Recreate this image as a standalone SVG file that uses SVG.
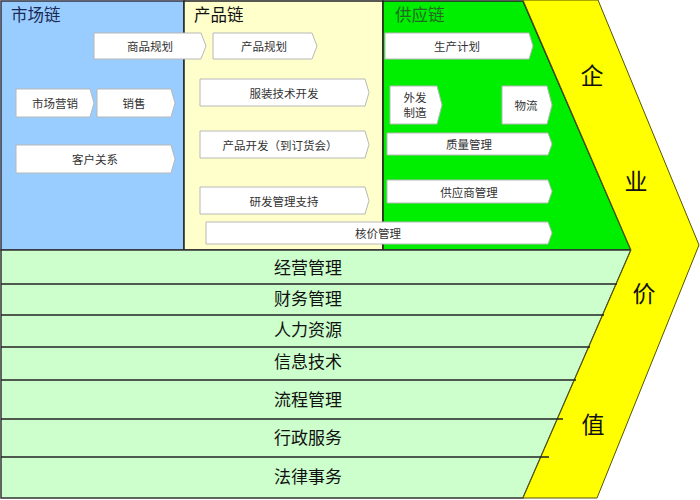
<svg xmlns="http://www.w3.org/2000/svg" width="700" height="500" viewBox="0 0 700 500">
<style>
.box{fill:#ffffff;stroke:#b8b8b8;stroke-width:1}
.bt{font-family:"Noto Sans CJK SC","Noto Sans",sans-serif;font-size:11.5px;fill:#333333;text-anchor:middle;dominant-baseline:central}
.hd{font-family:"Noto Sans CJK SC","Noto Sans",sans-serif;font-size:16.5px}
.row{font-family:"Noto Sans CJK SC","Noto Sans",sans-serif;font-size:17px;fill:#111111;text-anchor:middle;dominant-baseline:central}
.vc{font-family:"Noto Sans CJK SC","Noto Sans",sans-serif;font-size:23px;fill:#111111;text-anchor:middle;dominant-baseline:central}
.rl{stroke:#222222;stroke-width:1.3;fill:none}
</style>
<rect width="700" height="500" fill="#ffffff"/>
<g id="bands">
<rect id="market" x="1" y="1" width="183" height="249" fill="#99ccff" stroke="#333344" stroke-width="1.5"/>
<rect id="product" x="184" y="1" width="199" height="249" fill="#ffffcc" stroke="#222222" stroke-width="1.5"/>
<polygon id="supply" points="383,1 523,1 631,250 383,250" fill="#00ee00" stroke="#222222" stroke-width="1.5"/>
<polygon id="support" points="1,250 631,250 523,498 1,498" fill="#ccffcc" stroke="#333333" stroke-width="1.5"/>
<polygon id="value" points="523,0 598,0 699,245 597,498 523,498 631,250" fill="#ffff00" stroke="#555500" stroke-width="1"/>
</g>
<g id="headers">
<text class="hd" x="11" y="21" fill="#1a2a55">市场链</text>
<text class="hd" x="194" y="21" fill="#111111">产品链</text>
<text class="hd" x="395" y="21" fill="#1f6b1f">供应链</text>
</g>
<g id="connectors">
<line class="rl" x1="1" y1="284" x2="617" y2="284"/>
<line class="rl" x1="1" y1="315" x2="604" y2="315"/>
<line class="rl" x1="1" y1="347" x2="590" y2="347"/>
<line class="rl" x1="1" y1="380" x2="576" y2="380"/>
<line class="rl" x1="1" y1="419" x2="563" y2="419"/>
<line class="rl" x1="1" y1="457" x2="549" y2="457"/>
</g>
<g id="n-spgh"><path class="box" d="M94 33H201L206 46L201 59H94Z"/><text class="bt" x="150" y="46">商品规划</text></g>
<g id="n-cpgh"><path class="box" d="M213 33H312L317 46L312 59H213Z"/><text class="bt" x="264" y="46">产品规划</text></g>
<g id="n-scyx"><path class="box" d="M16 89H90L94 103L90 117H16Z"/><text class="bt" x="55" y="103">市场营销</text></g>
<g id="n-xs"><path class="box" d="M97 89H171L175 103L171 117H97Z"/><text class="bt" x="134" y="103">销售</text></g>
<g id="n-khgx"><path class="box" d="M16 145H171L175 159L171 173H16Z"/><text class="bt" x="95" y="159">客户关系</text></g>
<g id="n-fzjs"><path class="box" d="M200 79H365L369 92.5L365 106H200Z"/><text class="bt" x="284" y="92.5">服装技术开发</text></g>
<g id="n-cpkf"><path class="box" d="M200 131H365L369 144.5L365 158H200Z"/><text class="bt" x="280" y="144.5">产品开发（到订货会）</text></g>
<g id="n-yfgl"><path class="box" d="M200 187H365L369 200.5L365 214H200Z"/><text class="bt" x="284" y="200.5">研发管理支持</text></g>
<g id="n-hjgl"><path class="box" d="M206 222H548L552 233L548 244H206Z"/><text class="bt" x="378" y="233">核价管理</text></g>
<g id="n-scjh"><path class="box" d="M385 33H529L533 46L529 59H385Z"/><text class="bt" x="457" y="46">生产计划</text></g>
<g id="n-wfzz"><path class="box" d="M390 86H437L442 105L437 124H390Z"/><text class="bt" x="415" y="97">外发</text><text class="bt" x="415" y="112">制造</text></g>
<g id="n-wl"><path class="box" d="M502 86H547L552 105L547 124H502Z"/><text class="bt" x="526" y="105">物流</text></g>
<g id="n-zlgl"><path class="box" d="M387 133H548L552 144L548 155H387Z"/><text class="bt" x="469" y="144">质量管理</text></g>
<g id="n-gysgl"><path class="box" d="M387 180H548L552 191.5L548 203H387Z"/><text class="bt" x="469" y="191.5">供应商管理</text></g>
<g id="rows">
<text class="row" x="308" y="266.5">经营管理</text>
<text class="row" x="308" y="297.5">财务管理</text>
<text class="row" x="308" y="328.5">人力资源</text>
<text class="row" x="308" y="360.5">信息技术</text>
<text class="row" x="308" y="398.5">流程管理</text>
<text class="row" x="308" y="436.5">行政服务</text>
<text class="row" x="308" y="475.5">法律事务</text>
</g>
<g id="value-text">
<text class="vc" x="592" y="74">企</text>
<text class="vc" x="636" y="180">业</text>
<text class="vc" x="644" y="292">价</text>
<text class="vc" x="593" y="423">值</text>
</g>
</svg>
